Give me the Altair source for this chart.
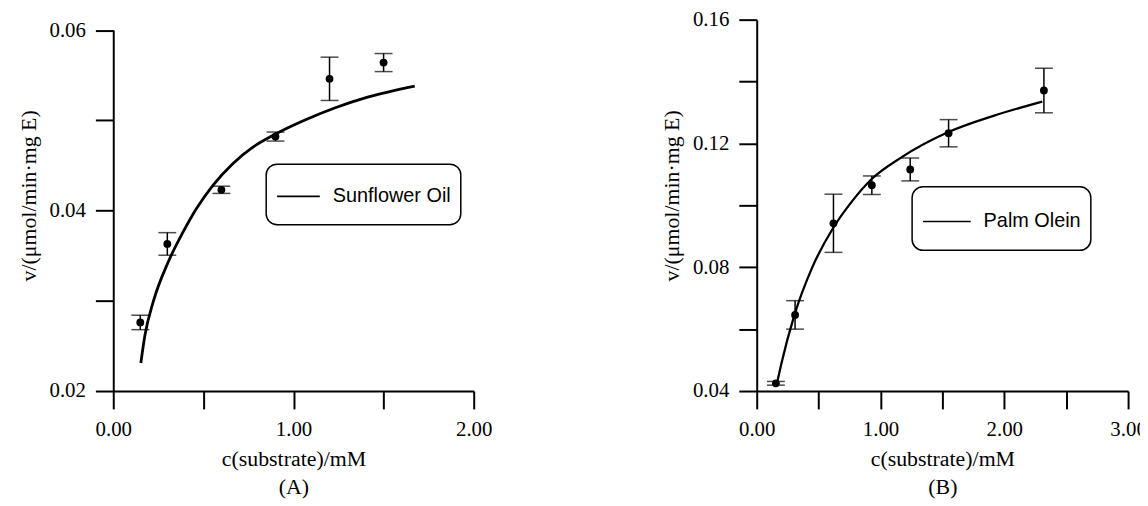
import altair as alt
import pandas as pd

# ---------------- Panel A: Sunflower Oil ----------------
conc_A = [0.15, 0.30, 0.60, 0.90, 1.20, 1.50]
rate_A = [0.0276, 0.0363, 0.0423, 0.0482, 0.0546, 0.0564]
err_A = [0.0008, 0.00125, 0.0004, 0.0005, 0.0024, 0.0010]

fit_x_A = [0.153, 0.176, 0.222, 0.305, 0.387, 0.461, 0.553, 0.663, 0.773, 0.902, 1.048, 1.232, 1.416, 1.673]
fit_y_A = [0.0231, 0.0262, 0.0299, 0.0343, 0.0376, 0.0402, 0.0428, 0.0452, 0.0470, 0.0485, 0.0499, 0.0514, 0.0526, 0.0538]

xticks_A = [0.0, 0.5, 1.0, 1.5, 2.0]
xlabels_A = ["0.00", "1.00", "2.00"]
yticks_A = [0.02, 0.03, 0.04, 0.05, 0.06]
ylabels_A = ["0.02", "0.04", "0.06"]

# ---------------- Panel B: Palm Olein ----------------
conc_B = [0.155, 0.31, 0.62, 0.93, 1.24, 1.55, 2.32]
rate_B = [0.0425, 0.0646, 0.0942, 0.1065, 0.1116, 0.1233, 0.1371]
err_B = [0.0006, 0.0046, 0.0094, 0.0030, 0.0037, 0.0044, 0.0072]

fit_x_B = [0.16, 0.2, 0.305, 0.447, 0.616, 0.768, 0.929, 1.169, 1.544, 1.918, 2.307]
fit_y_B = [0.0418, 0.0490, 0.0646, 0.0798, 0.0926, 0.1012, 0.1085, 0.1155, 0.1236, 0.1290, 0.1335]

xticks_B = [0.0, 0.5, 1.0, 1.5, 2.0, 2.5, 3.0]
xlabels_B = ["0.00", "1.00", "2.00", "3.00"]
yticks_B = [0.04, 0.06, 0.08, 0.10, 0.12, 0.14, 0.16]
ylabels_B = ["0.04", "0.08", "0.12", "0.16"]

x_title = "c(substrate)/mM"
y_title = "v/(μmol/min·mg E)"

SERIF = "Liberation Serif"
SANS = "Liberation Sans"
H = 374  # common plot height (panel A uses only its lower 363 px)


def label_expr(labels):
    arr = "[" + ",".join("'" + s + "'" for s in labels) + "]"
    return ("indexof(" + arr + ", format(datum.value, '.2f')) >= 0 ? "
            "format(datum.value, '.2f') : ''")


def panel(conc, rate, err, fx, fy, name, caption, xdom, ydom, xt, xl, yt, yl,
          width, ytop, lx, ly, sym_w, sym_path, curve_w):
    pts = pd.DataFrame({"c": conc, "v": rate, "e": err})
    pts["lo"] = pts["v"] - pts["e"]
    pts["hi"] = pts["v"] + pts["e"]
    fit = pd.DataFrame({"c": fx, "v": fy, "series": name})

    xscale = alt.Scale(domain=xdom, nice=False, zero=False)
    yscale = alt.Scale(domain=ydom, nice=False, zero=False, range=[H, ytop])
    xaxis = alt.Axis(values=xt, labelExpr=label_expr(xl), title=[x_title, caption],
                     titleLineHeight=28, labelFlush=False, labelOverlap=False)
    yaxis = alt.Axis(values=yt, labelExpr=label_expr(yl), title=y_title,
                     labelOverlap=False, titleY=177)

    base = alt.Chart(pts)
    rules = base.mark_rule(color="black", strokeWidth=1.5).encode(
        x=alt.X("c:Q", scale=xscale, axis=xaxis),
        y=alt.Y("lo:Q", scale=yscale, axis=yaxis),
        y2="hi:Q",
    )
    cap_lo = base.mark_tick(color="black", orient="horizontal", size=18, thickness=1.5).encode(
        x="c:Q", y="lo:Q")
    cap_hi = base.mark_tick(color="black", orient="horizontal", size=18, thickness=1.5).encode(
        x="c:Q", y="hi:Q")
    dots = base.mark_circle(color="black", opacity=1, size=62).encode(x="c:Q", y="v:Q")

    curve = alt.Chart(fit).mark_line(strokeWidth=curve_w, interpolate="monotone").encode(
        x="c:Q",
        y="v:Q",
        color=alt.Color(
            "series:N",
            scale=alt.Scale(domain=[name], range=["black"]),
            legend=alt.Legend(
                orient="none", legendX=lx, legendY=ly, title=None,
                strokeColor="black", cornerRadius=11, padding=10, fillColor="white",
                labelFont=SANS, labelFontSize=20, labelColor="black", labelOffset=12,
                symbolType=sym_path, symbolSize=sym_w * sym_w, symbolStrokeWidth=1.6,
                symbolStrokeColor="black", symbolFillColor="transparent",
            ),
        ),
    )
    return alt.layer(rules, cap_lo, cap_hi, curve, dots).properties(width=width, height=H)


left = panel(conc_A, rate_A, err_A, fit_x_A, fit_y_A, "Sunflower Oil", "(A)",
             [0.0, 2.0], [0.02, 0.06], xticks_A, xlabels_A, yticks_A, ylabels_A,
             363, 10.5, 154, 145.5, 43, "M-1,-0.67M-1,0L1,0M1,0.67", 2.8)
right = panel(conc_B, rate_B, err_B, fit_x_B, fit_y_B, "Palm Olein", "(B)",
              [0.0, 3.0], [0.04, 0.16], xticks_B, xlabels_B, yticks_B, ylabels_B,
              374, 0, 156.5, 168.3, 48, "M-1,-0.62M-1,0L1,0M1,0.62", 2.3)

chart = alt.hconcat(left, right, spacing=169).resolve_scale(color="independent").resolve_legend(
    color="independent"
).properties(
    padding={"left": 9, "top": -1, "right": -7, "bottom": 0},
    background="white",
).configure_view(stroke=None).configure_axis(
    grid=False, domainColor="black", domainWidth=2, tickColor="black", tickWidth=2,
    tickSize=18, labelPadding=10, labelFont=SERIF, labelFontSize=21, labelColor="black",
    titleFont=SERIF, titleFontSize=22, titleFontWeight="normal", titleColor="black",
    titlePadding=9,
).configure_legend(strokeWidth=1.5)

chart.save("out.html", embed_options={"renderer": "svg", "actions": False})
